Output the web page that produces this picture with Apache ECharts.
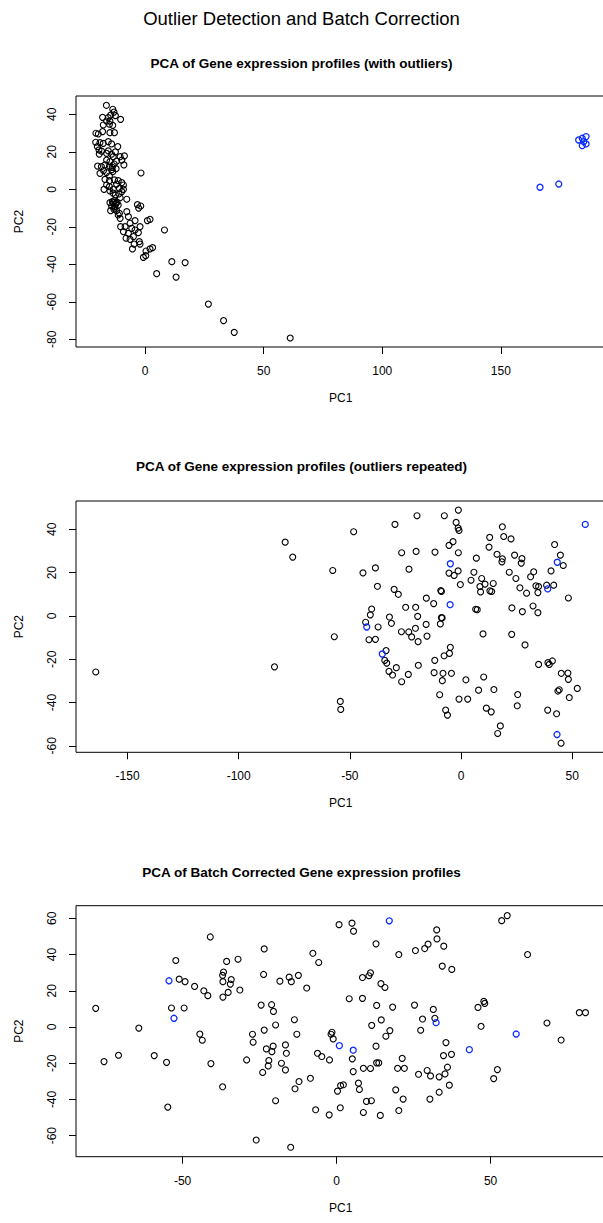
<!DOCTYPE html>
<html>
<head>
<meta charset="utf-8">
<script src="https://cdn.jsdelivr.net/npm/echarts@6/dist/echarts.min.js"></script>
<style>
html,body{margin:0;padding:0;background:#fff;overflow:hidden;}
#chart{width:603px;height:1223px;}
</style>
</head>
<body>
<div id="chart"></div>
<script>
// ---------- texts ----------
var mainTitle = 'Outlier Detection and Batch Correction';
var panelTitles = [
  'PCA of Gene expression profiles (with outliers)',
  'PCA of Gene expression profiles (outliers repeated)',
  'PCA of Batch Corrected Gene expression profiles'
];
var xName = 'PC1';
var yName = 'PC2';

// ---------- tick labels ----------
var p1XTicks = [0, 50, 100, 150];
var p1YTicks = [-80, -60, -40, -20, 0, 20, 40];
var p2XTicks = [-150, -100, -50, 0, 50];
var p2YTicks = [-60, -40, -20, 0, 20, 40];
var p3XTicks = [-50, 0, 50];
var p3YTicks = [-60, -40, -20, 0, 20, 40, 60];

// ---------- panel 1: PCA with outliers ----------
var p1Samples = [
[-16.3,44.8],[-13.6,42.7],[-13.1,41.2],[-14.5,39.6],[-12.5,39.3],
[-17.9,38.4],[-15.5,38.2],[-16.2,36.4],[-14.8,36.4],[-10.3,37.3],[-15.0,34.7],[-13.6,34.1],[-17.6,34.3],[-17.9,30.8],[-14.8,30.2],[-12.9,30.2],
[-20.7,29.9],[-19.7,29.5],[-20.8,25.1],[-19.0,24.9],[-17.6,24.5],[-15.5,25.4],[-14.1,24.2],[-11.5,22.8],[-20.1,22.8],
[-19.4,21.0],[-18.3,20.4],[-19.3,18.8],[-16.2,19.2],[-14.1,18.7],[-13.4,17.4],[-10.5,17.4],[-8.7,17.8],[-9.8,15.6],
[-8.9,13.0],[-20.0,12.4],[-18.4,12.1],[-16.9,13.0],[-15.0,12.4],[-13.8,11.7],[-12.2,11.0],[-14.8,14.8],[-16.2,15.6],
[-19.0,8.5],[-16.2,8.9],[-13.6,9.4],[-15.0,7.1],[-16.9,5.3],[-15.0,4.6],[-12.9,5.0],[-11.3,4.6],[-9.8,3.6],[-12.0,2.8],[-9.1,2.3],[-16.2,2.3],
[-17.3,0.0],[-15.0,1.4],[-13.4,0.0],[-10.8,0.5],[-9.1,0.0],[-9.8,-1.2],[-14.8,-0.9],
[-7.7,-5.3],[-14.8,-7.1],[-13.4,-7.1],[-12.2,-7.5],[-14.1,-8.9],[-12.7,-9.2],[-11.3,-8.4],[-14.5,-11.4],[-12.0,-11.4],[-7.7,-11.9],[-13.1,-10.7],
[-13.0,-6.0],[-12.5,-8.0],[-13.8,-6.5],[-11.8,-6.8],[-12.8,-10.0],[-14.0,10.5],[-13.0,13.5],[-12.0,15.0],[-17.5,10.0],[-15.5,20.5],[-12.5,20.0],
[-11.0,-2.5],[-12.5,-3.0],[-10.5,-4.5],[-13.5,-2.0],
[-11.3,-13.7],[-10.5,-15.5],[-7.0,-14.6],[-4.2,-16.7],[-6.3,-18.1],[-10.8,-12.8],
[-10.3,-19.9],[-8.4,-19.9],[-9.1,-22.6],[-7.0,-23.5],[-5.6,-20.8],[-4.2,-21.7],[-2.1,-19.9],[-2.8,-23.1],[-8.0,-26.1],[-6.3,-26.7],[-4.9,-25.2],
[-2.4,-27.9],[-2.1,-29.2],[-4.6,-29.2],[-5.3,-31.8],
[-1.7,8.7],[8.2,-21.7],[11.3,-38.6],[16.9,-39.1],[4.9,-45.0],[13.1,-46.8],[26.7,-61.2],[33.1,-70.0],[37.6,-76.3],[61.2,-79.3],
[3.2,-31.1],[2.1,-31.8],[0.4,-32.9],[0.3,-35.4],[-0.7,-36.3],[1.0,-16.7],[2.1,-16.0],[-1.8,-8.9],[-3.2,-8.2],[-2.7,-10.0]
];
var p1Outliers = [
[166.5,1.1],[174.4,2.8],[182.8,26.3],[184.3,27.2],[185.9,28.1],[184.3,23.3],[185.9,24.2],[184.9,25.4]
];

// ---------- panel 2: outliers repeated ----------
var p2Samples = [
[-164.3,-25.9],[-79.1,34.1],[-75.7,27.2],[-83.9,-23.5],
[-1.2,48.9],[-19.8,46.3],[-7.5,46.3],[-29.7,42.3],[-2.2,43.2],[-1.3,40.6],[-0.9,39.5],[-48.3,38.9],
[18.6,41.2],[19.2,36.7],[22.5,35.6],[12.9,36.3],[-3.6,34.3],[-5.4,32.6],[12.6,31.8],[42.1,33.0],[44.7,28.1],
[-26.7,29.2],[-20.2,29.8],[-11.7,29.5],[-1.2,29.2],[16.2,28.5],[18.6,26.4],[18.4,25.0],[24.1,28.1],[27.4,26.5],[27.1,24.4],[6.9,26.7],
[46.0,23.3],[40.5,20.8],[-57.7,21.0],[-44.1,19.9],[-38.5,22.2],[-23.4,21.6],[-5.4,19.8],[-3.1,18.7],[-1.3,20.8],[5.8,20.2],[4.5,16.5],[9.3,17.3],
[21.7,20.2],[24.7,17.3],[32.7,20.4],[31.3,18.1],[-37.6,13.7],[-30.1,12.3],[-28.2,10.0],[-9.1,11.7],[-8.8,11.3],[-0.3,14.5],[8.5,13.6],[10.8,14.7],
[14.5,15.0],[8.8,11.1],[13.0,11.6],[13.8,11.3],[26.5,13.0],[29.5,10.5],[33.7,13.9],[34.9,13.6],[34.6,10.8],[38.5,14.2],[41.7,14.2],[48.3,8.3],
[-15.6,8.2],[-12.3,5.7],[-24.9,4.0],[-20.4,4.0],[-19.5,-0.2],[-40.2,3.2],[-40.8,0.5],[-32.2,-0.5],[-31.3,-3.4],[6.6,3.1],[7.3,2.9],[22.9,3.7],
[27.6,2.0],[32.4,4.6],[34.6,1.5],[-8.8,-0.8],[-8.5,-0.9],[-9.3,-3.7],[-15.7,-3.9],[-20.5,-5.7],[-42.9,-2.9],[-37.3,-5.1],[-57.0,-9.6],[-41.4,-11.0],
[-38.5,-10.8],[-26.8,-7.3],[-23.5,-7.4],[-22.2,-9.7],[-19.3,-11.9],[-15.3,-9.3],[9.9,-8.3],[22.8,-8.5],[28.8,-13.4],[-33.7,-16.0],[-34.3,-20.5],
[-33.4,-21.8],[-29.1,-23.9],[-32.4,-25.6],[-30.8,-27.3],[-26.7,-30.4],[-23.7,-27.0],[-19.2,-22.8],[-11.8,-20.5],[-7.6,-18.4],[-5.2,-17.3],[-4.8,-14.5],
[-12.1,-26.2],[-8.1,-26.5],[-4.3,-26.5],[-8.4,-29.9],[2.2,-29.5],[10.2,-28.2],[7.9,-34.3],[14.8,-34.0],[-9.6,-36.4],[-0.9,-38.4],[3.0,-38.4],
[11.4,-42.6],[13.6,-44.3],[-6.9,-43.5],[-6.1,-45.8],[17.7,-50.8],[16.5,-54.3],[34.9,-22.4],[39.1,-21.6],[39.7,-22.4],[41.1,-20.8],[45.1,-26.5],
[48.1,-26.4],[48.3,-29.3],[43.6,-34.7],[44.2,-34.1],[52.3,-33.5],[48.7,-37.7],[25.5,-36.3],[25.3,-41.5],[39.0,-43.5],[43.0,-45.2],[45.0,-58.8],
[-54.3,-39.5],[-54.1,-43.2]
];
var p2Outliers = [
[-4.8,24.1],[43.3,24.8],[39.0,12.5],[-4.9,5.2],[-42.4,-5.1],[-35.4,-17.6],[43.2,-54.8],[55.9,42.3]
];

// ---------- panel 3: batch corrected ----------
var p3Samples = [
[-41.0,49.7],[-52.2,36.7],[-51.1,26.4],[-49.2,25.0],[-46.1,22.4],[-43.1,20.0],[-41.8,17.3],[-35.7,36.2],[-32.0,37.4],[-36.7,30.3],[-37.0,28.5],
[-36.9,25.0],[-34.2,26.2],[-34.5,23.7],[-35.2,19.1],[-36.9,16.5],[-31.4,20.4],[-23.5,43.1],[-23.7,29.0],[-18.4,25.3],[-15.4,27.5],[-14.7,25.0],
[-12.4,28.5],[-9.7,21.5],[-7.7,40.7],[-5.8,35.6],[-78.2,10.3],[-53.6,10.5],[-49.5,10.5],[-64.2,-0.6],[-44.4,-3.9],[-43.6,-7.3],[-70.8,-15.6],
[-75.5,-19.1],[-59.2,-15.8],[-55.2,-19.5],[-40.8,-20.2],[-37.0,-33.0],[-54.8,-44.2],[-24.5,12.1],[-21.1,12.3],[-20.5,8.6],[-19.8,1.1],[-23.5,-1.7],
[-13.7,4.0],[-12.9,-4.0],[-27.3,-4.0],[-27.1,-8.4],[-22.8,-12.1],[-20.6,-10.6],[-21.0,-13.6],[-22.0,-18.5],[-22.2,-21.5],[-29.2,-18.2],[-24.0,-25.1],
[-17.9,-20.0],[-16.6,-9.9],[-16.3,-14.5],[-16.6,-23.7],[-13.5,-34.1],[-12.2,-30.1],[-19.8,-40.7],[-8.5,-28.3],[-6.2,-14.5],[-4.8,-16.3],[-6.8,-45.7],
[-26.1,-62.4],[-14.9,-66.4],
[0.8,56.5],[5.0,57.3],[5.5,52.9],[53.6,58.7],[55.4,61.5],[32.5,53.6],[32.6,48.6],[29.7,45.7],[28.6,43.3],[34.8,44.6],[25.6,42.2],[12.8,45.9],
[20.2,40.0],[62.0,40.0],[34.3,33.6],[37.4,31.8],[8.4,27.3],[10.5,28.3],[11.0,29.9],[14.4,23.9],[15.7,21.8],[4.1,15.6],[8.4,15.8],[13.0,11.9],
[18.2,11.0],[25.3,12.1],[31.4,9.7],[45.9,10.8],[47.8,14.1],[48.1,13.0],[78.8,7.9],[80.8,7.9],[11.4,0.9],[14.5,3.9],[27.9,4.4],[31.9,4.8],
[27.3,-1.8],[17.3,-2.0],[16.0,-5.1],[46.9,0.4],[68.3,2.2],[72.9,-7.2],[-1.5,-2.9],[-1.8,-4.0],[-1.1,-6.6],[12.8,-10.6],[35.5,-8.6],[34.7,-15.8],
[37.3,-15.1],[-2.3,-18.2],[5.1,-17.6],[21.3,-17.3],[5.4,-24.6],[8.7,-22.8],[11.0,-22.9],[13.0,-19.8],[13.7,-19.8],[19.8,-22.8],[22.0,-22.8],
[26.6,-26.1],[29.4,-24.0],[30.5,-27.0],[33.3,-27.5],[35.2,-25.9],[36.0,-22.2],[36.6,-32.1],[33.3,-36.0],[30.3,-39.8],[52.2,-23.5],[51.0,-28.5],
[7.1,-31.0],[7.4,-34.5],[1.3,-32.3],[2.2,-31.9],[0.3,-35.4],[9.7,-41.1],[11.3,-40.7],[19.2,-34.7],[21.6,-39.8],[1.2,-44.6],[-2.4,-48.5],
[8.7,-47.2],[14.2,-48.8],[20.2,-46.1]
];
var p3Outliers = [
[-54.4,25.5],[-52.8,4.8],[17.1,58.6],[32.3,2.4],[58.3,-3.9],[0.9,-10.3],[5.4,-12.8],[43.1,-12.5]
];

// ---------- chart ----------
var FONT = '"Liberation Sans", Arial, Helvetica, sans-serif';
var panels = [
  {top: 96,    height: 251, xMin: -29.1,  xMax: 194.1, yMin: -84.1, yMax: 49.76, xt: p1XTicks, yt: p1YTicks, s: p1Samples, o: p1Outliers, titleY: 63},
  {top: 501,   height: 251.3, xMin: -173.2, xMax: 65.0, yMin: -63.0, yMax: 53.1, xt: p2XTicks, yt: p2YTicks, s: p2Samples, o: p2Outliers, titleY: 466},
  {top: 905.7, height: 251, xMin: -84.6,  xMax: 87.3, yMin: -71.6, yMax: 66.95, xt: p3XTicks, yt: p3YTicks, s: p3Samples, o: p3Outliers, titleY: 872}
];

var grids = [], xAxes = [], yAxes = [], series = [], graphics = [];
graphics.push({type: 'text', x: 301.5, y: 18, style: {text: mainTitle, font: 'normal 18.5px ' + FONT, fill: '#000', align: 'center', verticalAlign: 'middle'}});

panels.forEach(function (p, i) {
  grids.push({left: 76, top: p.top, width: 529.5, height: p.height, show: true, borderColor: '#000', borderWidth: 1,
              backgroundColor: 'transparent', containLabel: false, outerBoundsMode: 'none'});
  xAxes.push({
    type: 'value', gridIndex: i, min: p.xMin, max: p.xMax, position: 'bottom',
    name: xName, nameLocation: 'middle', nameGap: 45,
    nameTextStyle: {fontFamily: FONT, fontSize: 12, color: '#000'},
    axisLine: {show: false, onZero: false},
    axisTick: {show: true, inside: false, length: 7, lineStyle: {color: '#000', width: 1}, customValues: p.xt},
    axisLabel: {show: true, margin: 18, fontFamily: FONT, fontSize: 12, color: '#000', customValues: p.xt},
    splitLine: {show: false}
  });
  yAxes.push({
    type: 'value', gridIndex: i, min: p.yMin, max: p.yMax, position: 'left',
    name: yName, nameLocation: 'middle', nameGap: 51, nameRotate: 90,
    nameTextStyle: {fontFamily: FONT, fontSize: 12, color: '#000'},
    axisLine: {show: false, onZero: false},
    axisTick: {show: true, inside: false, length: 7, lineStyle: {color: '#000', width: 1}, customValues: p.yt},
    axisLabel: {show: true, margin: 18, rotate: 90, fontFamily: FONT, fontSize: 12, color: '#000', customValues: p.yt},
    splitLine: {show: false}
  });
  series.push({
    type: 'scatter', xAxisIndex: i, yAxisIndex: i, data: p.s, symbol: 'circle', symbolSize: 6,
    itemStyle: {color: 'rgba(0,0,0,0)', borderColor: '#000', borderWidth: 1.1, opacity: 1},
    emphasis: {disabled: true}, silent: true, animation: false
  });
  series.push({
    type: 'scatter', xAxisIndex: i, yAxisIndex: i, data: p.o, symbol: 'circle', symbolSize: 6,
    itemStyle: {color: 'rgba(0,0,0,0)', borderColor: '#0a2bff', borderWidth: 1.3, opacity: 1},
    emphasis: {disabled: true}, silent: true, animation: false
  });
  graphics.push({type: 'text', x: 301.5, y: p.titleY, style: {text: panelTitles[i], font: 'bold 13.5px ' + FONT, fill: '#000', align: 'center', verticalAlign: 'middle'}});
});

var chart = echarts.init(document.getElementById('chart'), null, {renderer: 'svg'});
chart.setOption({
  backgroundColor: '#fff',
  animation: false,
  grid: grids,
  xAxis: xAxes,
  yAxis: yAxes,
  series: series,
  graphic: graphics
});
</script>
</body>
</html>
